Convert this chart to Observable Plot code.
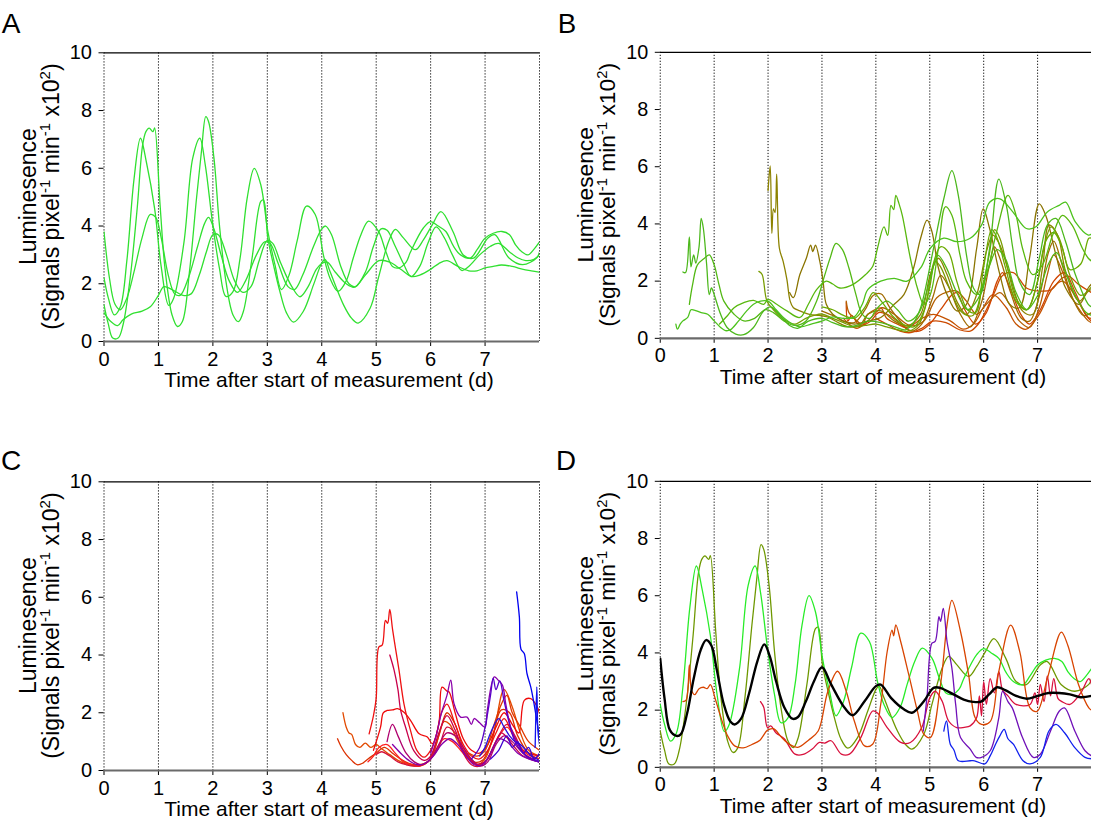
<!DOCTYPE html>
<html><head><meta charset="utf-8">
<script src="https://cdn.jsdelivr.net/npm/d3@7"></script>
<script src="https://cdn.jsdelivr.net/npm/@observablehq/plot@0.6"></script>
<style>
html,body{margin:0;padding:0;background:#fff;}
body{width:1093px;height:823px;overflow:hidden;position:relative;font-family:"Liberation Sans",Arial,sans-serif;}
.panel{position:absolute;}
</style></head><body>
<script>
// ---------- DATA (day, luminescence x10^2) ----------
const xTicks = [0,1,2,3,4,5,6,7];
const yTicks = [0,2,4,6,8,10];
const gridDays = [0,1,2,3,4,5,6,7,8];

// Panel A
const A_L1 = [[0,2.2],[0.08,1.5],[0.19,0.92],[0.3,1.2],[0.42,2.8],[0.55,5.6],[0.67,7.04],[0.78,6.2],[0.93,4.6],[1.05,2.6],[1.19,1.25],[1.28,1.5],[1.47,3.45],[1.63,6.35],[1.76,7.04],[1.86,6.12],[1.99,4.16],[2.12,2.54],[2.24,1.56],[2.37,1.73],[2.5,2.89],[2.63,4.97],[2.76,6.0],[2.88,5.43],[3.01,3.81],[3.14,2.66],[3.26,1.8],[3.4,2.3],[3.55,3.5],[3.72,4.69],[3.88,4.4],[4.03,3.0],[4.15,2.2],[4.3,1.74],[4.45,2.1],[4.58,2.9],[4.72,3.7],[4.86,4.17],[5.04,3.82],[5.18,3.1],[5.3,2.6],[5.42,2.55],[5.55,2.75],[5.63,3.1],[5.87,3.94],[6.0,4.15],[6.14,4.0],[6.28,3.81],[6.42,3.3],[6.55,3.0],[6.73,2.89],[6.86,3.2],[7.0,3.58],[7.15,3.75],[7.31,3.81],[7.45,3.7],[7.56,3.35],[7.68,3.1],[7.79,3.0],[7.9,3.2],[8.0,3.45]];
const A_L2 = [[0,1.27],[0.08,0.6],[0.16,0.12],[0.26,0.12],[0.35,0.58],[0.48,2.19],[0.61,4.62],[0.71,6.81],[0.77,7.27],[0.83,7.39],[0.9,7.27],[0.93,7.4],[1.03,4.73],[1.12,2.54],[1.25,0.92],[1.35,0.52],[1.44,0.69],[1.57,2.42],[1.7,4.97],[1.79,6.58],[1.87,7.79],[1.92,7.62],[2.02,6.35],[2.12,4.04],[2.24,2.08],[2.37,0.92],[2.47,0.69],[2.56,1.04],[2.72,2.89],[2.88,4.85],[2.93,4.9],[3.01,3.58],[3.12,2.6],[3.23,1.74],[3.35,1.0],[3.48,0.67],[3.66,1.04],[3.85,1.97],[4.0,2.72],[4.06,2.84],[4.15,2.43],[4.4,1.27],[4.55,0.8],[4.67,0.64],[4.89,1.16],[5.04,2.2],[5.23,3.47],[5.35,3.88],[5.5,3.59],[5.72,3.18],[5.87,3.53],[6.03,4.04],[6.19,4.5],[6.41,3.81],[6.6,3.0],[6.79,2.89],[7.05,3.58],[7.18,3.7],[7.44,2.89],[7.69,2.66],[7.95,2.9],[8.0,3.1]];
const A_L3 = [[0,3.8],[0.1,2.2],[0.2,1.3],[0.3,1.1],[0.42,1.5],[0.55,2.4],[0.7,3.6],[0.85,4.4],[0.95,4.3],[1.05,3.6],[1.18,2.3],[1.3,1.65],[1.4,1.6],[1.55,2.2],[1.72,3.3],[1.85,4.1],[1.92,4.3],[2.02,3.9],[2.15,3.0],[2.3,2.1],[2.45,1.7],[2.6,2.1],[2.8,3.0],[2.95,3.45],[3.05,3.4],[3.2,2.7],[3.38,1.9],[3.5,1.8],[3.65,2.3],[3.85,3.3],[4.0,3.9],[4.07,4.0],[4.18,3.7],[4.35,2.6],[4.5,2.0],[4.62,1.9],[4.8,2.4],[4.95,3.3],[5.09,3.9],[5.2,3.85],[5.35,3.3],[5.5,2.7],[5.64,2.25],[5.8,2.6],[5.95,3.4],[6.1,3.97],[6.25,3.6],[6.4,3.0],[6.57,2.46],[6.7,2.6],[6.9,3.0],[7.1,3.3],[7.25,3.4],[7.45,3.1],[7.6,2.9],[7.75,2.8],[7.9,2.85],[8.0,3.0]];
const A_L4 = [[0,1.0],[0.12,0.7],[0.25,0.55],[0.35,0.75],[0.5,0.95],[0.7,1.05],[0.85,1.2],[1.0,1.6],[1.1,1.9],[1.25,1.8],[1.45,1.6],[1.6,1.65],[1.75,2.3],[1.88,3.1],[2.0,3.7],[2.1,3.7],[2.25,3.0],[2.4,2.1],[2.55,1.7],[2.7,1.9],[2.85,2.8],[3.0,3.5],[3.1,3.4],[3.25,2.7],[3.45,1.9],[3.6,1.55],[3.75,1.9],[3.9,2.5],[4.0,2.7],[4.1,2.75],[4.25,2.4],[4.45,2.0],[4.6,1.88],[4.8,2.3],[5.05,2.8],[5.25,2.75],[5.45,2.5],[5.65,2.25],[5.8,2.3],[6.0,2.5],[6.15,2.7],[6.3,2.8],[6.5,2.6],[6.7,2.45],[6.85,2.45],[7.0,2.55],[7.15,2.6],[7.3,2.65],[7.5,2.6],[7.7,2.5],[7.85,2.45],[8.0,2.4]];

// Panel B
const B_1 = [[0.42,2.32],[0.47,2.3],[0.54,3.55],[0.57,2.5],[0.62,2.92],[0.66,2.63],[0.72,3.2],[0.76,4.19],[0.8,3.84],[0.86,2.6],[0.91,1.53],[0.95,1.76],[1.0,1.53],[1.12,0.84],[1.24,0.38],[1.4,0.15],[1.55,0.13],[1.73,0.38],[1.92,0.96],[2.05,1.1],[2.2,0.85],[2.4,0.45],[2.55,0.35],[2.75,0.6],[3.0,0.7],[3.2,0.55],[3.45,0.4],[3.65,0.45],[3.85,0.6],[4.1,0.55],[4.35,0.4],[4.55,0.3],[4.7,0.55],[4.83,1.07],[5.07,3.15],[5.26,4.88],[5.41,5.86],[5.53,4.99],[5.68,2.92],[5.81,1.76],[5.93,1.53],[6.11,3.15],[6.28,5.57],[6.42,4.65],[6.54,3.15],[6.66,2.0],[6.85,1.53],[7.03,2.8],[7.18,3.96],[7.34,4.19],[7.52,3.38],[7.7,2.23],[7.94,1.19],[8.0,1.1]];
const B_2 = [[0.54,1.19],[0.6,1.88],[0.69,2.57],[0.82,2.8],[0.91,2.92],[1.0,2.57],[1.09,1.88],[1.18,1.3],[1.37,0.84],[1.55,0.61],[1.75,0.7],[1.95,1.0],[2.1,0.9],[2.3,0.6],[2.5,0.45],[2.7,0.6],[2.9,1.3],[3.05,2.2],[3.15,2.8],[3.26,3.32],[3.38,3.1],[3.5,2.46],[3.63,1.53],[3.75,0.84],[3.9,0.7],[4.0,1.0],[4.2,1.3],[4.4,1.0],[4.6,0.6],[4.8,0.9],[5.0,2.0],[5.15,2.9],[5.3,2.5],[5.5,1.6],[5.7,1.0],[5.9,1.4],[6.1,2.5],[6.25,3.1],[6.4,2.8],[6.6,1.6],[6.8,1.0],[7.0,1.5],[7.2,2.6],[7.35,3.0],[7.5,2.4],[7.7,1.5],[7.9,0.9],[8.0,0.8]];
const B_3 = [[0.29,0.5],[0.32,0.32],[0.37,0.5],[0.42,0.61],[0.51,0.73],[0.57,1.0],[0.63,0.99],[0.76,0.9],[0.88,0.84],[1.0,0.61],[1.12,0.38],[1.21,0.27],[1.3,0.3],[1.45,0.6],[1.6,0.95],[1.73,1.19],[1.86,1.3],[2.0,1.3],[2.15,1.0],[2.3,0.7],[2.45,0.5],[2.6,0.4],[2.8,0.5],[3.0,0.6],[3.2,0.75],[3.4,0.7],[3.6,0.75],[3.75,1.2],[3.85,1.7],[4.09,2.0],[4.34,2.1],[4.58,2.0],[4.83,2.46],[5.01,3.15],[5.26,3.5],[5.5,3.38],[5.75,3.5],[5.96,3.96],[6.11,4.76],[6.3,4.88],[6.54,4.42],[6.79,3.84],[6.97,3.9],[7.18,4.42],[7.4,4.65],[7.52,4.76],[7.7,4.07],[7.94,3.61],[8.0,3.65]];
const B_4 = [[1.1,0.5],[1.25,0.8],[1.37,1.07],[1.55,1.25],[1.73,1.33],[1.92,1.19],[2.0,1.36],[2.16,1.19],[2.35,0.96],[2.59,0.73],[2.75,1.2],[2.9,1.7],[3.08,2.0],[3.2,1.9],[3.33,1.76],[3.57,1.88],[3.81,2.23],[3.94,2.51],[4.03,3.15],[4.15,3.9],[4.22,3.6],[4.28,4.65],[4.33,4.5],[4.37,5.0],[4.43,4.7],[4.49,4.3],[4.64,2.8],[4.77,1.76],[4.89,1.19],[5.01,1.53],[5.16,3.15],[5.29,4.6],[5.41,4.3],[5.56,2.92],[5.68,2.0],[5.87,1.53],[6.05,2.23],[6.24,3.73],[6.45,5.0],[6.6,4.3],[6.72,3.15],[6.91,2.23],[7.09,2.57],[7.28,3.61],[7.46,4.3],[7.64,3.96],[7.83,3.15],[7.94,2.8],[8.0,2.7]];
const B_5 = [[2.0,5.17],[2.04,6.03],[2.07,3.67],[2.1,4.53],[2.13,4.4],[2.16,5.74],[2.21,3.15],[2.28,2.69],[2.35,2.05],[2.41,1.3],[2.47,1.07],[2.59,0.96],[2.77,0.84],[2.95,0.8],[3.1,0.75],[3.3,0.55],[3.5,0.4],[3.7,0.45],[3.85,0.84],[4.09,0.96],[4.34,0.61],[4.58,0.44],[4.83,0.84],[5.01,2.23],[5.16,2.8],[5.32,2.23],[5.5,1.3],[5.68,0.84],[5.87,1.53],[6.05,3.03],[6.17,3.61],[6.3,3.26],[6.48,2.23],[6.72,0.96],[6.91,0.84],[7.09,2.46],[7.21,3.96],[7.37,3.61],[7.52,2.34],[7.77,1.3],[7.94,1.65],[8.0,1.7]];
const B_6 = [[2.4,1.6],[2.47,1.42],[2.59,2.23],[2.71,2.8],[2.79,3.26],[2.83,3.03],[2.88,3.26],[2.96,2.69],[3.02,2.0],[3.08,1.19],[3.2,0.84],[3.4,0.6],[3.6,0.5],[3.85,0.6],[4.09,0.73],[4.34,1.19],[4.52,1.53],[4.7,2.46],[4.83,3.5],[4.95,4.13],[5.04,3.73],[5.16,2.46],[5.32,1.53],[5.5,0.96],[5.68,1.19],[5.87,3.15],[5.99,4.53],[6.11,3.84],[6.3,2.23],[6.48,1.19],[6.66,1.07],[6.85,2.8],[7.03,4.7],[7.15,4.3],[7.34,2.92],[7.52,1.76],[7.77,1.19],[7.94,1.76],[8.0,1.9]];
const B_7 = [[1.83,2.34],[1.89,2.23],[1.98,1.3],[2.1,1.0],[2.3,0.65],[2.5,0.5],[2.7,0.7],[2.85,0.8],[3.0,0.85],[3.2,0.7],[3.4,0.55],[3.6,0.4],[3.8,0.45],[4.0,0.5],[4.2,0.4],[4.4,0.3],[4.6,0.25],[4.8,0.5],[5.0,1.8],[5.1,2.7],[5.2,2.5],[5.4,1.6],[5.6,0.9],[5.8,0.8],[6.0,2.0],[6.1,2.9],[6.2,3.8],[6.3,3.5],[6.45,2.4],[6.6,1.4],[6.8,1.0],[7.0,2.0],[7.1,3.0],[7.25,3.9],[7.4,3.5],[7.6,2.2],[7.8,1.5],[8.0,1.8]];
const B_8 = [[3.45,1.3],[3.5,0.9],[3.6,0.7],[3.75,0.5],[3.85,0.84],[4.12,1.07],[4.34,0.84],[4.64,0.44],[4.89,0.61],[5.13,1.42],[5.38,1.65],[5.5,1.65],[5.68,1.3],[5.87,0.84],[6.05,1.19],[6.3,1.6],[6.48,1.19],[6.66,0.61],[6.85,0.38],[7.03,1.07],[7.18,2.23],[7.3,2.92],[7.46,2.34],[7.64,1.42],[7.94,0.61],[8.0,0.55]];
const B_9 = [[3.4,0.7],[3.5,0.5],[3.65,0.35],[3.85,0.61],[4.0,0.9],[4.1,1.05],[4.2,0.7],[4.4,0.5],[4.58,0.38],[4.89,0.73],[5.07,0.84],[5.38,0.61],[5.62,0.32],[5.81,0.5],[5.99,1.07],[6.17,1.53],[6.42,1.07],[6.6,0.5],[6.79,0.32],[7.03,0.84],[7.28,1.76],[7.46,2.0],[7.64,1.65],[7.94,0.73],[8.0,0.7]];
const B_10 = [[4.0,0.7],[4.2,0.5],[4.45,0.25],[4.65,0.2],[4.85,0.35],[5.05,0.6],[5.3,0.55],[5.55,0.3],[5.75,0.25],[5.9,0.5],[6.05,1.0],[6.2,1.6],[6.35,2.2],[6.55,2.3],[6.8,1.75],[7.03,1.65],[7.25,1.7],[7.45,2.1],[7.58,2.17],[7.75,1.9],[8.0,1.6]];
const B_11 = [[3.0,0.95],[3.2,0.8],[3.4,0.6],[3.6,0.55],[3.8,1.0],[3.95,1.5],[4.1,1.55],[4.25,1.1],[4.45,0.6],[4.65,0.25],[4.85,0.5],[5.05,1.4],[5.2,2.2],[5.35,1.8],[5.55,0.9],[5.75,0.4],[5.95,1.2],[6.1,2.5],[6.2,3.2],[6.3,2.8],[6.5,1.6],[6.7,0.7],[6.85,0.6],[7.05,1.6],[7.2,3.0],[7.3,3.4],[7.45,2.6],[7.65,1.4],[7.85,0.8],[8.0,0.9]];
const B_12 = [[3.0,1.1],[3.2,1.0],[3.4,0.8],[3.6,0.7],[3.8,1.1],[3.95,1.6],[4.1,1.3],[4.3,0.8],[4.5,0.5],[4.7,0.4],[4.9,1.0],[5.05,2.5],[5.2,3.2],[5.35,3.0],[5.5,2.0],[5.7,1.0],[5.85,0.9],[6.0,2.5],[6.15,3.8],[6.25,3.5],[6.4,2.5],[6.6,1.3],[6.8,1.0],[7.0,2.0],[7.15,3.4],[7.3,3.7],[7.45,3.2],[7.6,2.4],[7.8,2.6],[7.95,3.5],[8.0,3.5]];
const B_13 = [[3.45,1.25],[3.48,0.6],[3.55,0.8],[3.7,0.45],[3.9,0.6],[4.05,0.9],[4.2,0.85],[4.4,0.6],[4.6,0.3],[4.8,0.25],[5.0,0.5],[5.2,1.0],[5.4,1.5],[5.5,1.6],[5.65,1.0],[5.85,0.5],[6.05,0.9],[6.25,2.0],[6.35,2.3],[6.5,1.7],[6.7,0.8],[6.85,0.5],[7.05,1.0],[7.3,2.0],[7.5,2.3],[7.7,1.6],[7.9,0.8],[8.0,0.6]];

// Panel C
const C_1 = [[4.39,2.0],[4.45,1.5],[4.5,1.3],[4.55,1.25],[4.62,0.9],[4.7,0.8],[4.8,0.95],[4.9,0.8],[5.0,0.9],[5.1,0.75],[5.25,0.55],[5.4,0.35],[5.6,0.2],[5.8,0.15],[5.95,0.3],[6.1,0.9],[6.25,1.7],[6.35,1.6],[6.5,1.0],[6.7,0.45],[6.85,0.2],[7.0,0.4],[7.15,1.2],[7.35,2.8],[7.5,2.2],[7.65,1.3],[7.8,0.7],[8.0,0.5]];
const C_2 = [[4.29,1.1],[4.35,0.85],[4.45,0.55],[4.55,0.35],[4.65,0.2],[4.75,0.25],[4.85,0.4],[5.0,0.6],[5.15,0.8],[5.3,0.6],[5.45,0.4],[5.6,0.25],[5.8,0.2],[6.0,0.4],[6.15,1.2],[6.3,2.0],[6.45,1.6],[6.6,0.8],[6.8,0.3],[6.95,0.35],[7.1,0.9],[7.3,2.1],[7.45,2.0],[7.6,1.2],[7.8,0.6],[8.0,0.4]];
const C_3 = [[4.87,1.27],[4.95,1.9],[5.0,2.5],[5.05,4.28],[5.11,4.34],[5.17,5.2],[5.21,5.1],[5.25,5.58],[5.3,4.9],[5.36,4.17],[5.42,3.47],[5.51,2.31],[5.63,1.39],[5.75,0.69],[5.88,0.46],[6.0,0.7],[6.1,1.2],[6.2,2.0],[6.3,2.3],[6.45,1.6],[6.6,0.9],[6.75,0.5],[6.9,0.4],[7.05,0.7],[7.2,1.3],[7.35,1.8],[7.5,1.3],[7.7,0.7],[8.0,0.5]];
const C_4 = [[5.25,4.0],[5.33,3.47],[5.4,2.8],[5.45,2.08],[5.54,1.5],[5.69,0.69],[5.88,0.35],[6.0,0.5],[6.15,1.3],[6.3,1.9],[6.45,1.4],[6.6,0.7],[6.8,0.25],[7.0,0.3],[7.15,0.8],[7.3,1.3],[7.5,0.9],[7.7,0.5],[8.0,0.3]];
const C_5 = [[4.95,0.7],[5.08,1.5],[5.13,2.0],[5.2,2.08],[5.3,2.1],[5.39,2.14],[5.51,2.02],[5.63,1.74],[5.79,1.27],[5.94,1.16],[6.03,0.93],[6.15,1.6],[6.21,2.89],[6.3,2.75],[6.34,2.72],[6.45,2.0],[6.6,1.1],[6.75,0.7],[6.9,0.6],[7.05,0.9],[7.2,1.5],[7.35,2.0],[7.5,1.6],[7.62,1.3],[7.72,2.43],[7.84,2.49],[7.96,2.2],[8.0,1.97]];
const C_6 = [[4.85,0.3],[4.95,0.5],[5.05,0.8],[5.2,0.9],[5.35,0.6],[5.5,0.3],[5.65,0.2],[5.8,0.15],[5.95,0.3],[6.1,0.7],[6.25,1.1],[6.4,1.0],[6.55,0.7],[6.7,0.4],[6.85,0.2],[7.0,0.3],[7.2,1.0],[7.4,1.5],[7.55,1.1],[7.75,0.6],[8.0,0.4]];
const C_7 = [[5.2,1.0],[5.3,1.6],[5.4,1.2],[5.55,0.6],[5.7,0.3],[5.85,0.2],[6.0,0.4],[6.15,0.9],[6.3,1.3],[6.45,1.2],[6.6,0.8],[6.75,0.4],[6.9,0.15],[7.05,0.3],[7.2,0.9],[7.35,1.2],[7.5,1.0],[7.7,0.6],[8.0,0.3]];
const C_8 = [[6.0,0.6],[6.1,1.2],[6.2,2.0],[6.3,2.6],[6.37,3.13],[6.43,2.31],[6.55,1.85],[6.67,1.85],[6.75,1.6],[6.8,1.8],[6.9,1.65],[7.0,1.5],[7.04,2.08],[7.17,3.24],[7.24,3.13],[7.32,2.95],[7.38,2.31],[7.47,1.5],[7.6,0.93],[7.78,0.46],[8.0,0.29]];
const C_9 = [[5.3,0.9],[5.45,0.6],[5.6,0.35],[5.75,0.2],[5.9,0.25],[6.05,0.5],[6.2,0.9],[6.35,1.1],[6.5,0.9],[6.65,0.5],[6.8,0.2],[6.95,0.2],[7.1,0.6],[7.25,1.1],[7.4,1.0],[7.6,0.6],[7.8,0.4],[8.0,0.3]];
const C_10 = [[6.75,0.4],[6.9,0.8],[7.0,1.5],[7.1,2.6],[7.15,3.2],[7.2,2.8],[7.27,3.1],[7.35,2.4],[7.45,1.6],[7.55,1.0],[7.7,0.6],[7.85,0.4],[8.0,0.3]];
const C_11 = [[6.9,0.5],[7.0,0.8],[7.1,1.3],[7.25,1.8],[7.35,1.5],[7.45,1.2],[7.55,1.0],[7.65,0.9],[7.75,0.7],[7.85,0.5],[8.0,0.35]];
const C_12 = [[7.58,6.19],[7.63,5.32],[7.66,4.2],[7.72,4.05],[7.77,3.36],[7.84,2.89],[7.9,2.31],[7.96,1.62],[8.0,1.16]];
const C_13 = [[7.92,0.8],[7.95,2.9],[7.97,1.4],[8.0,0.9]];
const C_14 = [[7.1,0.4],[7.25,0.7],[7.4,1.2],[7.5,0.8],[7.6,1.0],[7.7,0.6],[7.8,0.8],[7.9,0.4],[8.0,0.6]];
const C_15 = [[6.7,0.6],[6.85,0.5],[7.0,0.7],[7.15,1.5],[7.3,2.3],[7.4,2.6],[7.5,2.0],[7.65,1.5],[7.8,1.0],[8.0,0.7]];
const C_16 = [[5.0,0.55],[5.1,0.65],[5.25,0.5],[5.4,0.3],[5.55,0.2],[5.7,0.15],[5.85,0.2],[6.0,0.4],[6.15,0.8],[6.3,1.5],[6.45,1.3],[6.6,0.6],[6.75,0.2],[6.9,0.15],[7.05,0.4],[7.2,1.0],[7.4,1.6],[7.55,1.2],[7.75,0.5],[8.0,0.3]];

// Panel D (representative traces + mean)
const D_orange = [[0.42,2.3],[0.48,2.35],[0.54,3.58],[0.58,2.7],[0.64,2.54],[0.72,2.75],[0.8,2.8],[0.87,2.75],[0.93,2.89],[1.02,2.4],[1.15,1.6],[1.25,1.1],[1.38,0.75],[1.54,0.68],[1.7,0.8],[1.85,0.95],[1.99,1.3],[2.1,1.35],[2.25,1.05],[2.4,0.8],[2.55,0.7],[2.75,0.95],[2.93,1.27],[3.11,2.66],[3.29,3.36],[3.45,2.66],[3.6,1.62],[3.79,0.75],[3.94,0.81],[4.09,2.2],[4.21,4.05],[4.3,4.8],[4.33,4.6],[4.37,4.98],[4.46,4.4],[4.61,3.24],[4.77,1.97],[4.89,1.16],[5.01,1.04],[5.2,2.9],[5.32,4.98],[5.41,5.84],[5.57,4.75],[5.72,3.24],[5.84,1.74],[5.96,1.5],[6.12,1.6],[6.28,3.35],[6.5,4.97],[6.67,4.04],[6.86,2.08],[6.99,1.96],[7.18,3.1],[7.44,4.73],[7.56,4.27],[7.76,2.89],[7.95,2.08],[8.0,2.0]];
const D_crimson = [[1.86,2.3],[1.92,2.1],[1.99,1.39],[2.05,1.45],[2.15,1.2],[2.3,1.0],[2.5,0.46],[2.65,0.45],[2.82,0.64],[2.95,0.87],[3.05,0.85],[3.17,0.93],[3.36,0.46],[3.51,0.46],[3.72,1.04],[3.94,1.97],[4.03,1.9],[4.21,1.39],[4.46,0.87],[4.64,0.87],[4.85,1.39],[5.0,2.43],[5.1,2.66],[5.23,2.31],[5.35,1.62],[5.5,1.39],[5.64,1.4],[5.75,1.45],[5.87,1.74],[5.92,2.5],[5.96,1.8],[6.0,3.0],[6.05,2.2],[6.12,3.1],[6.2,2.6],[6.28,3.35],[6.35,2.7],[6.45,2.5],[6.6,2.2],[6.86,2.2],[6.95,2.6],[7.0,2.2],[7.05,2.9],[7.12,2.3],[7.18,3.2],[7.24,2.5],[7.3,3.1],[7.38,2.4],[7.45,2.3],[7.6,2.2],[7.8,2.6],[7.95,3.1],[8.0,2.9]];
const D_purple = [[4.88,1.27],[4.95,2.5],[5.04,4.34],[5.1,4.4],[5.17,5.27],[5.2,5.1],[5.25,5.56],[5.32,4.4],[5.41,3.47],[5.48,2.2],[5.57,1.04],[5.75,0.64],[5.86,0.35],[5.96,0.35],[6.12,0.58],[6.28,1.73],[6.35,2.66],[6.45,2.3],[6.53,2.08],[6.72,1.04],[6.92,0.35],[7.05,0.46],[7.24,1.27],[7.4,1.96],[7.5,2.08],[7.69,1.27],[7.88,0.58],[8.0,0.4]];
const D_blue = [[5.26,1.27],[5.31,1.62],[5.38,0.81],[5.45,0.6],[5.53,0.23],[5.75,0.23],[5.83,0.23],[6.02,0.12],[6.12,0.4],[6.22,0.81],[6.3,1.1],[6.38,1.33],[6.45,1.0],[6.55,0.81],[6.73,0.23],[6.86,0.12],[7.05,0.35],[7.21,1.27],[7.34,1.5],[7.5,1.21],[7.69,0.69],[7.88,0.35],[8.0,0.3]];
const D_mean = [[0,3.8],[0.08,2.4],[0.18,1.3],[0.3,1.1],[0.38,1.15],[0.5,1.9],[0.62,3.1],[0.75,4.1],[0.85,4.45],[0.95,4.25],[1.05,3.4],[1.18,2.2],[1.3,1.6],[1.38,1.5],[1.5,1.7],[1.65,2.6],[1.8,3.7],[1.93,4.3],[2.03,3.9],[2.15,3.0],[2.3,2.1],[2.45,1.7],[2.55,1.75],[2.7,2.3],[2.85,3.0],[3.0,3.5],[3.17,2.9],[3.42,2.08],[3.57,1.82],[3.79,2.31],[4.0,2.84],[4.09,2.89],[4.28,2.43],[4.52,2.03],[4.67,1.91],[4.89,2.31],[5.07,2.78],[5.19,2.78],[5.44,2.55],[5.63,2.37],[5.8,2.29],[5.95,2.3],[6.1,2.55],[6.25,2.8],[6.4,2.7],[6.6,2.5],[6.8,2.4],[7.0,2.5],[7.2,2.6],[7.4,2.6],[7.6,2.55],[7.8,2.45],[8.0,2.5]];

// ---------- STYLES ----------
const FONT = '"Liberation Sans", Arial, sans-serif';
const GREEN_A = "#30e030";
const panels = [
  {letter:"A", left:0, top:0, width:546, height:410, ml:103.5, mr:7, mt:52.3, mb:69, letterX:11, letterY:33, edge:true,
   series:[[A_L4,GREEN_A],[A_L3,GREEN_A],[A_L2,GREEN_A],[A_L1,GREEN_A]]},
  {letter:"B", left:557, top:0, width:541, height:410, ml:103.7, mr:2, mt:52.3, mb:69, letterX:10, letterY:33, edge:false,
   series:[[B_10,"#cc4a00"],[B_9,"#c45200"],[B_13,"#d04400"],[B_8,"#b45e00"],[B_11,"#a06a00"],[B_5,"#8c8200"],[B_6,"#8a7400"],[B_7,"#789c00"],[B_12,"#6aaa00"],[B_2,"#52b814"],[B_1,"#4cb81c"],[B_4,"#58b80e"],[B_3,"#4cc21c"]]},
  {letter:"C", left:0, top:430, width:546, height:393, ml:103.5, mr:7, mt:51.3, mb:53, letterX:11, letterY:470, edge:true,
   series:[[C_1,"#e24a00"],[C_2,"#dc3000"],[C_6,"#ff2020"],[C_16,"#d4103c"],[C_4,"#c8004a"],[C_7,"#b0006e"],[C_9,"#8600aa"],[C_5,"#ee0a0a"],[C_3,"#ee1111"],[C_15,"#e03800"],[C_8,"#8a00aa"],[C_11,"#2a10e0"],[C_14,"#4000d0"],[C_10,"#5a00c8"],[C_12,"#0000f0"],[C_13,"#1010ee"]]},
  {letter:"D", left:557, top:430, width:541, height:393, ml:103.7, mr:2, mt:51.3, mb:53, letterX:9, letterY:470, edge:false,
   series:[[A_L2,"#6e9800"],[A_L1,"#28ec28"],[D_crimson,"#d8103c"],[D_orange,"#d84400"],[D_purple,"#7010b8"],[D_blue,"#1020ee"]], mean:D_mean}
];

function makePanel(p) {
  const lineMarks = p.series.map(([data, color]) =>
    Plot.line(data, {x: d => d[0], y: d => d[1], stroke: color, strokeWidth: 1.3, curve: "catmull-rom", clip: true}));
  const marks = [
    Plot.ruleX(gridDays.filter(d => p.edge || d < 8), {x: d => d, stroke: "#000", strokeWidth: 1, strokeDasharray: "1.2,1.8"}),
    Plot.ruleY([10], {y: d => d, stroke: "#000", strokeWidth: 1.2}),
    ...lineMarks
  ];
  if (p.mean) marks.push(Plot.line(p.mean, {x: d => d[0], y: d => d[1], stroke: "#000", strokeWidth: 2.4, curve: "catmull-rom", clip: true}));
  marks.push(Plot.ruleY([0], {y: d => d, stroke: "#6a6a6a", strokeWidth: 2.2}));
  const svg = Plot.plot({
    width: p.width, height: p.height,
    marginLeft: p.ml, marginRight: p.mr, marginTop: p.mt, marginBottom: p.mb,
    style: {fontFamily: FONT, fontSize: "20px", background: "transparent", overflow: "visible", color: "#000"},
    x: {domain: [0, 8], ticks: xTicks, tickSize: 5, tickPadding: 5, label: null},
    y: {domain: [0, 10], ticks: yTicks, tickSize: 5, tickPadding: 7, label: null},
    marks
  });
  const s = d3.select(svg);
  const cy = (p.mt + (p.height - p.mb)) / 2;
  s.append("text").attr("transform", `translate(36,${cy}) rotate(-90)`)
    .attr("text-anchor", "middle").attr("font-size", 23).attr("fill", "#000")
    .text("Luminesence");
  const t2 = s.append("text").attr("transform", `translate(59,${cy}) rotate(-90)`)
    .attr("text-anchor", "middle").attr("font-size", 23).attr("fill", "#000");
  const parts = [["(Signals pixel", 0], ["-1", 1], [" min", 0], ["-1", 1], [" x10", 0], ["2", 1], [")", 0]];
  let up = false;
  for (const [txt, sup] of parts) {
    const ts = t2.append("tspan").text(txt);
    if (sup) { ts.attr("font-size", 15).attr("dy", -9); up = true; }
    else if (up) { ts.attr("dy", 9); up = false; }
  }
  s.append("text").attr("x", 329).attr("y", p.height - p.mb + 46.3)
    .attr("text-anchor", "middle").attr("font-size", 21).attr("fill", "#000")
    .text("Time after start of measurement (d)");
  s.append("text").attr("x", p.letterX).attr("y", p.letterY - p.top)
    .attr("font-size", 28).attr("fill", "#000").text(p.letter);
  const div = document.createElement("div");
  div.className = "panel";
  div.style.left = p.left + "px";
  div.style.top = p.top + "px";
  div.appendChild(svg);
  document.body.appendChild(div);
}
panels.forEach(makePanel);
</script>
</body></html>
